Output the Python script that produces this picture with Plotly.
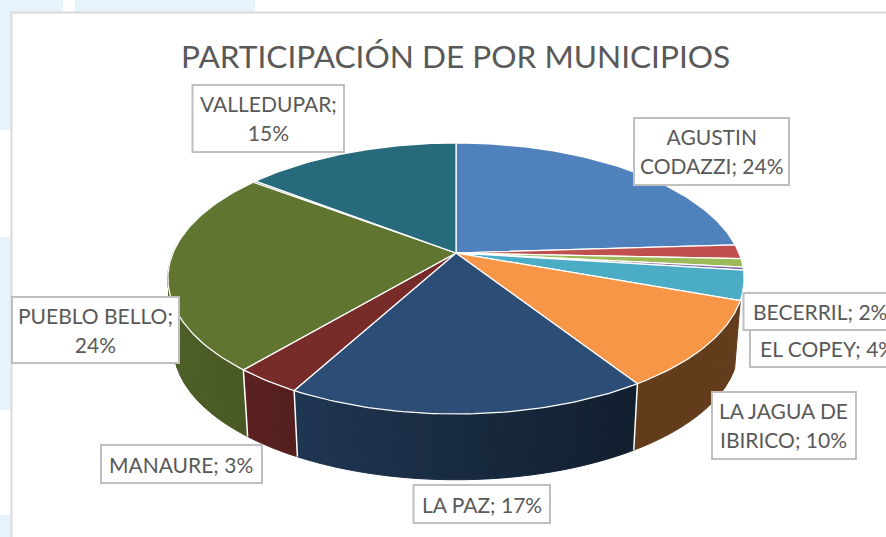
import numpy as np
import plotly.graph_objects as go

# ---- data (clockwise from 12 o'clock) ----
categories = ["AGUSTIN CODAZZI", "BECERRIL", "(sin etiqueta A)", "(sin etiqueta B)", "EL COPEY",
              "LA JAGUA DE IBIRICO", "LA PAZ", "MANAURE", "PUEBLO BELLO", "(sin etiqueta C)", "VALLEDUPAR"]
values = [24.0, 1.7, 1.0, 0.35, 3.5, 10.4, 17.0, 3.2, 24.2, 0.2, 14.5]
top_colors = ["#4F81BD", "#C0504D", "#9BBB59", "#8064A2", "#4BACC6", "#F79646",
              "#2C4D75", "#772C2A", "#5F7530", "#4D3B62", "#276A7C"]
title_text = "PARTICIPACIÓN DE POR MUNICIPIOS"

# label text lines and their boxes (x0, x1, y0, y1) in page pixels
label_lines = [["VALLEDUPAR;", "15%"], ["AGUSTIN", "CODAZZI; 24%"], ["BECERRIL; 2%"], ["EL COPEY; 4%"],
               ["LA JAGUA DE", "IBIRICO; 10%"], ["LA PAZ; 17%"], ["MANAURE; 3%"], ["PUEBLO BELLO;", "24%"]]
label_boxes = [(192.5, 344, 85, 152), (634, 789, 118, 185), (743.5, 890, 293, 330), (750, 890, 330, 367),
               (712, 856, 392, 459), (413.5, 550, 485, 523), (101, 262, 445, 483), (12, 179, 297, 363)]
label_text_x = [268.5, 712, 751, 758, 783.5, 481.5, 181, 95]
label_text_dy = [-1, -1, 0, 0, -1, 0, 0, 0]
label_anchor = ["center", "center", "left", "left", "center", "center", "center", "center"]

# background patches of the page (x0, x1, y0, y1)
patches = [(0, 63, 0, 130), (75, 255, 0, 12), (0, 11, 237, 410), (0, 11, 515, 537)]

# ---- projection of the tilted pie ----
CX, CY, A, B, K = 456, 253, 283, 130.7, 0.188
WALL_Y, WALL_S = 322, 0.98


def project(theta_deg):
    t = np.radians(theta_deg)
    X, Y = np.sin(t), np.cos(t)
    w = 1 + K * Y
    return A * X / w, -B * Y / w


def top_rim(theta):
    dx, dy = project(theta)
    return CX + dx, CY + dy


def bottom_rim(theta):
    dx, dy = project(theta)
    return CX + WALL_S * dx, WALL_Y + WALL_S * dy


def shade(hex_color, f):
    r, g, b = (int(hex_color[i:i + 2], 16) for i in (1, 3, 5))
    return f"rgb({r * f:.0f},{g * f:.0f},{b * f:.0f})"


cum = np.concatenate([[0], np.cumsum(values)]) / np.sum(values) * 360
fig = go.Figure()


def poly(xs, ys, fill, line_color, line_width):
    fig.add_trace(go.Scatter(x=xs, y=ys, mode="lines", fill="toself", fillcolor=fill,
                             line=dict(color=line_color, width=line_width),
                             hoverinfo="skip", showlegend=False))


# side walls: only the front slices from the orange one to the olive one
wall_limit = 273
for i in range(5, 9):
    a0, a1 = cum[i], min(cum[i + 1], wall_limit)
    edges = np.linspace(a0, a1, max(2, int((a1 - a0) / 1.5) + 1))
    for e0, e1 in zip(edges[:-1], edges[1:]):
        mid = (e0 + e1) / 2
        f = np.interp(mid, [110, 150, 220, 273], [0.40, 0.40, 0.76, 0.86])
        th = np.linspace(e0, e1, 4)
        xt, yt = top_rim(th)
        xb, yb = bottom_rim(th[::-1])
        c = shade(top_colors[i], f)
        poly(np.r_[xt, xb, xt[0]], np.r_[yt, yb, yt[0]], c, c, 1)
# white seams between the walls
for i in range(6, 9):
    xt, yt = top_rim(cum[i])
    xb, yb = bottom_rim(cum[i])
    fig.add_trace(go.Scatter(x=[xt, xb], y=[yt, yb], mode="lines", line=dict(color="white", width=1.5),
                             hoverinfo="skip", showlegend=False))

# top face
for i in range(len(values)):
    th = np.linspace(cum[i], cum[i + 1], max(3, int((cum[i + 1] - cum[i]) / 1.0) + 2))
    xt, yt = top_rim(th)
    poly(np.r_[CX, xt, CX], np.r_[CY, yt, CY], top_colors[i], "white", 1.25)

# ---- text ----
annotations = [dict(x=455.5, y=56, xref="x", yref="y", text=title_text, showarrow=False,
                    font=dict(family="Lato", size=31.6, color="#595959"), xanchor="center", yanchor="middle")]
FONT_PX = 21
LINE_BOX = 22.4  # makes plotly's line pitch 29 px
for lines, box, tx, dy, anc in zip(label_lines, label_boxes, label_text_x, label_text_dy, label_anchor):
    text = "<br>".join(f'<span style="font-size:{FONT_PX}px">{s}</span>' for s in lines)
    annotations.append(dict(x=tx, y=(box[2] + box[3]) / 2 + dy, xref="x", yref="y", text=text, showarrow=False,
                            font=dict(family="Lato", size=LINE_BOX, color="#595959"),
                            xanchor=anc, yanchor="middle", align="center"))

shapes = [dict(type="rect", xref="x", yref="y", x0=p[0], x1=p[1], y0=p[2], y1=p[3], layer="below",
               fillcolor="#E6F3FA", line_width=0) for p in patches]
shapes.append(dict(type="rect", xref="x", yref="y", x0=11.5, x1=900, y0=12.5, y1=560, layer="below",
                   fillcolor="white", line=dict(color="#D9D9D9", width=2)))
for b in label_boxes:
    shapes.append(dict(type="rect", xref="x", yref="y", x0=b[0], x1=b[1], y0=b[2], y1=b[3], layer="above",
                       fillcolor="white", line=dict(color="#BFBFBF", width=2)))

fig.update_layout(
    width=886, height=537, margin=dict(l=0, r=0, t=0, b=0), autosize=False,
    paper_bgcolor="white", plot_bgcolor="white", showlegend=False,
    xaxis=dict(range=[0, 886], visible=False, fixedrange=True),
    yaxis=dict(range=[537, 0], visible=False, fixedrange=True),
    shapes=shapes, annotations=annotations,
)
fig.write_html("out.html", config={"displayModeBar": False},
               post_script="document.body.style.margin='0';document.body.style.overflow='hidden';")
